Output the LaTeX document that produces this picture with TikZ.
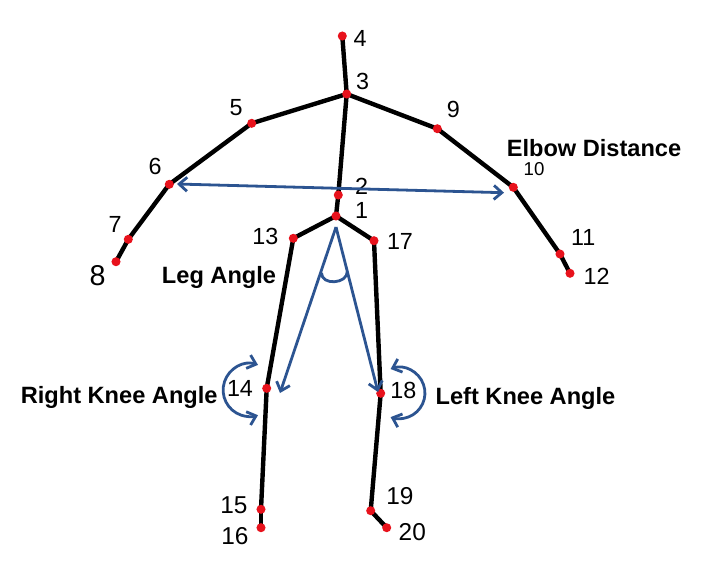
\documentclass[tikz,border=0pt]{standalone}
\usepackage{fontspec}
\setmainfont{Liberation Sans}
\usetikzlibrary{arrows.meta,positioning,backgrounds}
\definecolor{armblue}{HTML}{2C5491}
\definecolor{jointred}{HTML}{E8121C}

\begin{document}
\begin{tikzpicture}[x=0.75pt,y=-0.75pt,
			>={Straight Barb[length=6pt,width=10.5pt]},
			joint/.style={circle,fill=jointred,inner sep=0pt,minimum size=6.8pt},
			num/.style={font=\fontsize{17.5}{19}\selectfont,inner sep=0pt},
			lbl/.style={font=\fontsize{17.7}{20}\selectfont\bfseries,inner sep=0pt,anchor=base},
			bone/.style={line width=3.3pt,black,line cap=round},
			arr/.style={line width=2.1pt,armblue}
			]
			\useasboundingbox (0,0) rectangle (704,576);
			\foreach \n/\x/\y in {1/336/216,2/338.3/195,3/346.7/94,4/342.3/36,5/251.7/123.3,6/169.3/184.3,7/128.3/239.3,8/116/261.7,
				9/437.3/128.7,10/513.3/187.3,11/560/254,12/570/273.3,13/293.3/238.3,14/266.7/388.3,15/261/509.3,16/261/527.7,
				17/374/240.7,18/380.7/393.3,19/370.7/510.7,20/386.7/527.7}
				\node[joint] (j\n) at (\x,\y) {};
			\begin{scope}[on background layer]
				\foreach \a/\b in {4/3,3/2,2/1,3/5,5/6,6/7,7/8,3/9,9/10,10/11,11/12,1/13,13/14,14/15,15/16,1/17,17/18,18/19,19/20}
					\draw[bone] (j\a.center) -- (j\b.center);
			\end{scope}
			\foreach \n/\x/\y in {1/361.7/210.7,2/361.7/186.7,3/362.7/81.7,4/360/38.3,5/236/107.3,6/155/166.7,7/115/224,
				9/453.3/109.3,11/583.3/237.7,12/596.7/276.7,13/265.3/236.7,14/240/388.3,
				17/400/241.7,18/403.3/390}
				\node[num] (n\n) at (\x,\y) {\n};
			\foreach \n/\x/\y in {15/234/505,16/235/536,19/400/496,20/412.3/532.3}
				\node[num,font=\fontsize{18.3}{20}\selectfont] (n\n) at (\x,\y) {\n};
			\node[num,font=\fontsize{21.5}{24}\selectfont] (n8) at (97.5,275.5) {8};
			\node[num,font=\fontsize{14}{16}\selectfont] (n10) at (534,169.3) {10};
			\node[lbl] (elbow) at (594,156.7) {Elbow Distance};
			\node[lbl] (leg) at (219,283.3) {Leg Angle};
			\node[lbl] (rknee) at (119.2,403.3) {Right Knee Angle};
			\node[lbl] (lknee) at (525.5,404.3) {Left Knee Angle};
			\coordinate (eL) at (177,184);
			\coordinate (eR) at (504,192.7);
			\coordinate (la) at (336,227);
			\coordinate (laL) at (280,393);
			\coordinate (laR) at (378,392);
			\coordinate (ca1) at (321.5,273);
			\coordinate (ca2) at (347.3,271.5);
			\coordinate (kR) at (258,364.9);
			\coordinate (kL) at (390.6,369);
			\draw[arr,<->] (eL) -- (eR);
			\draw[arr,->] (la) -- (laL);
			\draw[arr,->] (la) -- (laR);
			\draw[arr] (ca1) to[out=-90,in=-90,looseness=1.25] (ca2);
			\draw[arr,<->] (kR) arc[start angle=-71.6,end angle=-288.4,radius=26.5];
			\draw[arr,<->] (kL) arc[start angle=-110,end angle=110,radius=25.6];
		\end{tikzpicture}
\end{document}
